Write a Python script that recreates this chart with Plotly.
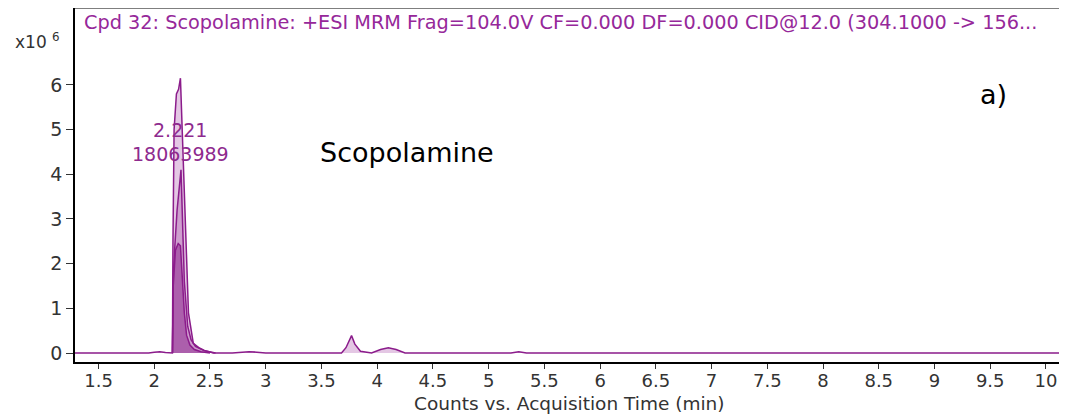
import plotly.graph_objects as go

# ---- data (intensities in units of 10^6 counts) ----
rt_main = [1.289, 1.95, 2.0, 2.05, 2.10, 2.163, 2.168, 2.178, 2.199, 2.218, 2.235,
           2.25, 2.262, 2.28, 2.307, 2.35, 2.40, 2.45, 2.53, 2.7, 2.8, 2.85, 2.92,
           3.0, 3.68, 3.72, 3.77, 3.80, 3.85, 3.95, 4.03, 4.1, 4.17, 4.25, 5.2,
           5.27, 5.34, 10.162]
int_main = [0, 0, 0.02, 0.03, 0.01, 0, 2.5, 5.0, 5.8, 5.9, 6.15,
            5.0, 4.3, 2.8, 0.9, 0.22, 0.12, 0.06, 0.0, 0.0, 0.02, 0.03, 0.02,
            0, 0, 0.12, 0.39, 0.2, 0.04, 0.0, 0.08, 0.12, 0.08, 0.0, 0.0,
            0.03, 0.0, 0.0]

rt_b = [2.163, 2.172, 2.185, 2.205, 2.24, 2.255, 2.27, 2.30, 2.33, 2.37, 2.45, 2.55]
int_b = [0, 1.8, 2.4, 3.2, 4.1, 3.0, 1.6, 0.6, 0.3, 0.15, 0.05, 0]

rt_c = [2.163, 2.17, 2.19, 2.215, 2.235, 2.25, 2.27, 2.29, 2.32, 2.36, 2.42, 2.5]
int_c = [0, 1.5, 2.3, 2.45, 2.4, 1.8, 0.9, 0.4, 0.18, 0.08, 0.03, 0]

peak_rt = "2.221"
peak_area = "18063989"
peak_x = 2.235

x_tickvals = [1.5, 2, 2.5, 3, 3.5, 4, 4.5, 5, 5.5, 6, 6.5, 7, 7.5, 8, 8.5, 9, 9.5, 10]
x_ticktext = ["1.5", "2", "2.5", "3", "3.5", "4", "4.5", "5", "5.5", "6", "6.5",
              "7", "7.5", "8", "8.5", "9", "9.5", "10"]
y_tickvals = [0, 1, 2, 3, 4, 5, 6]
y_ticktext = ["0", "1", "2", "3", "4", "5", "6"]

title_text = "Cpd 32: Scopolamine: +ESI MRM Frag=104.0V CF=0.000 DF=0.000 CID@12.0 (304.1000 -> 156..."
x_title = "Counts vs. Acquisition Time (min)"

FONT = "DejaVu Sans, Liberation Sans, Arial, sans-serif"
PURPLE = "#8B1C8B"
TEXT = "#333333"

fig = go.Figure()
fig.add_trace(go.Scatter(x=rt_main, y=int_main, mode="lines", fill="tozeroy",
                         line=dict(color=PURPLE, width=1.5),
                         fillcolor="rgba(165,70,165,0.30)"))
fig.add_trace(go.Scatter(x=rt_b, y=int_b, mode="lines", fill="tozeroy",
                         line=dict(color=PURPLE, width=1.5),
                         fillcolor="rgba(140,30,140,0.25)"))
fig.add_trace(go.Scatter(x=rt_c, y=int_c, mode="lines", fill="tozeroy",
                         line=dict(color=PURPLE, width=1.5),
                         fillcolor="rgba(130,20,130,0.45)"))

# page has an 8px body margin, so the figure is sized/offset to compensate
fig.update_layout(
    width=1059, height=408,
    margin=dict(l=67, r=3, t=0, b=54, autoexpand=False),
    paper_bgcolor="white", plot_bgcolor="white",
    showlegend=False,
    font=dict(family=FONT, color=TEXT, size=19),
    xaxis=dict(range=[1.289, 10.162], tickvals=x_tickvals, ticktext=x_ticktext,
               showgrid=False, zeroline=False, showline=True, linecolor="black",
               linewidth=2, ticks="outside", ticklen=5, tickcolor=TEXT,
               ticklabelstandoff=-4,
               tickfont=dict(size=18, color=TEXT)),
    yaxis=dict(range=[-0.2, 7.72], tickvals=y_tickvals, ticktext=y_ticktext,
               showgrid=False, zeroline=False, showline=True, linecolor="black",
               linewidth=1.5, ticks="outside", ticklen=7, tickcolor=TEXT,
               tickfont=dict(size=19, color=TEXT)),
)

# top and right frame lines
fig.add_shape(type="line", xref="paper", yref="paper", x0=0, x1=1, y0=1, y1=1,
              line=dict(color="#555555", width=1.5))
fig.add_shape(type="line", xref="paper", yref="paper", x0=1, x1=1, y0=0, y1=1,
              line=dict(color="#999999", width=1))

fig.add_annotation(text=title_text, xref="paper", yref="paper", x=0.0071, y=0.96,
                   xanchor="left", yanchor="middle", showarrow=False,
                   font=dict(size=19.3, color="#96289A", family=FONT))
fig.add_annotation(text="x10 <sup>6</sup>", xref="paper", yref="paper", x=-0.0627,
                   y=0.907, xanchor="left", yanchor="middle", showarrow=False,
                   font=dict(size=17, color=TEXT, family=FONT))
fig.add_annotation(text=x_title, xref="paper", yref="paper", x=0.5, y=-0.117,
                   xanchor="center", yanchor="middle", showarrow=False,
                   font=dict(size=18.5, color=TEXT, family=FONT))
fig.add_annotation(text=peak_rt, x=peak_x, y=5.0, xref="x", yref="y",
                   showarrow=False, font=dict(size=19, color="#8E2A8E", family=FONT))
fig.add_annotation(text=peak_area, x=peak_x, y=4.45, xref="x", yref="y",
                   showarrow=False, font=dict(size=19, color="#8E2A8E", family=FONT))
fig.add_annotation(text="Scopolamine", x=4.27, y=4.48, xref="x", yref="y",
                   showarrow=False, font=dict(size=27, color="black", family=FONT))
fig.add_annotation(text="a)", x=9.53, y=5.78, xref="x", yref="y",
                   showarrow=False, font=dict(size=27, color="black", family=FONT))

fig.write_html("out.html")
